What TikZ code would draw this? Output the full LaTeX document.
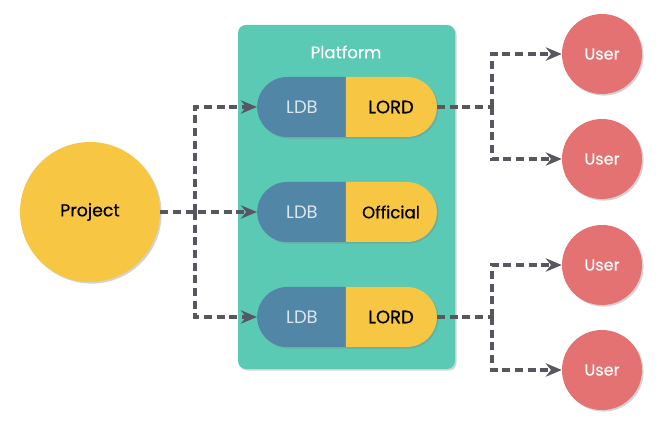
\documentclass[tikz,border=0pt]{standalone}
\usepackage{fontspec}
\setmainfont{Poppins}
\usetikzlibrary{arrows.meta,shapes.misc,shadows}
\definecolor{plat}{HTML}{5BCAB5}
\definecolor{ldbblue}{HTML}{5286A6}
\definecolor{lordyel}{HTML}{F7C744}
\definecolor{userred}{HTML}{E47272}
\definecolor{flowgray}{HTML}{56575F}
\definecolor{ldbtext}{HTML}{DDE6EE}
\tikzset{
	shade/.style={drop shadow={shadow xshift=1.2pt, shadow yshift=-1.2pt, opacity=0.35}},
	ldbhalf/.style={rounded rectangle, rounded rectangle right arc=none, fill=ldbblue, shade, minimum width=66.75pt, minimum height=45pt, inner sep=0pt, text=ldbtext, font=\fontsize{13.5}{15}\selectfont},
	lordhalf/.style={rounded rectangle, rounded rectangle left arc=none, fill=lordyel, shade, minimum width=68.25pt, minimum height=45pt, inner sep=0pt, text=black, font=\fontsize{13.5}{15}\selectfont\addfontfeature{FakeBold=0.6}},
	user/.style={circle, fill=userred, shade, minimum size=60pt, inner sep=0pt, text=white, font=\fontsize{12}{14}\selectfont\addfontfeature{FakeBold=0.3}},
	flow/.style={draw=flowgray, line width=2.4pt, dash pattern=on 6pt off 3.5pt, -{Stealth[length=12pt, width=10pt, inset=4pt]}},
	link/.style={draw=flowgray, line width=2.4pt, dash pattern=on 6pt off 3.5pt}
}

\begin{document}
\begin{tikzpicture}[x=0.75pt, y=-0.75pt]
			%%%%% START %%%%%
			\useasboundingbox (0, 0) rectangle (663, 423);
			
			% platform
			\draw[fill=plat, draw=none, rounded corners=6pt, shade] (238, 25) rectangle (455, 369);
			\node[text=white, font=\fontsize{12.5}{14}\selectfont\addfontfeature{FakeBold=0.3}] (plat) at (346, 52) {Platform};
			
			\node[ldbhalf] (ldb1) at (302, 107) {LDB};
			\node[lordhalf] (lord1) at (391, 107) {LORD};
			\node[ldbhalf] (ldb2) at (302, 212) {LDB};
			\node[lordhalf, font=\fontsize{12.5}{15}\selectfont\addfontfeature{FakeBold=0.6}] (lord2) at (391, 212) {Official};
			\node[ldbhalf] (ldb3) at (302, 317) {LDB};
			\node[lordhalf] (lord3) at (391, 317) {LORD};
			
			% project
			\node[circle, fill=lordyel, shade, minimum size=105pt, inner sep=0pt, font=\fontsize{13}{15}\selectfont\addfontfeature{FakeBold=0.6}] (proj) at (90, 212) {Project};
			
			% users
			\node[user] (user1) at (602, 54) {User};
			\node[user] (user2) at (602, 159) {User};
			\node[user] (user3) at (602, 265) {User};
			\node[user] (user4) at (602, 370) {User};
			
			\coordinate (jl) at (195, 212);
			\coordinate (jr1) at (492, 107);
			\coordinate (jr2) at (492, 317);
			
			\draw[flow] (proj.east) -- (ldb2.west);
			\draw[flow] (jl) |- (ldb1.west);
			\draw[flow] (jl) |- (ldb3.west);
			
			\draw[link] (lord1.east) -- (jr1);
			\draw[flow] (jr1) |- (user1.west);
			\draw[flow] (jr1) |- (user2.west);
			\draw[link] (lord3.east) -- (jr2);
			\draw[flow] (jr2) |- (user3.west);
			\draw[flow] (jr2) |- (user4.west);
			%%%%% END %%%%%
		\end{tikzpicture}
\end{document}
